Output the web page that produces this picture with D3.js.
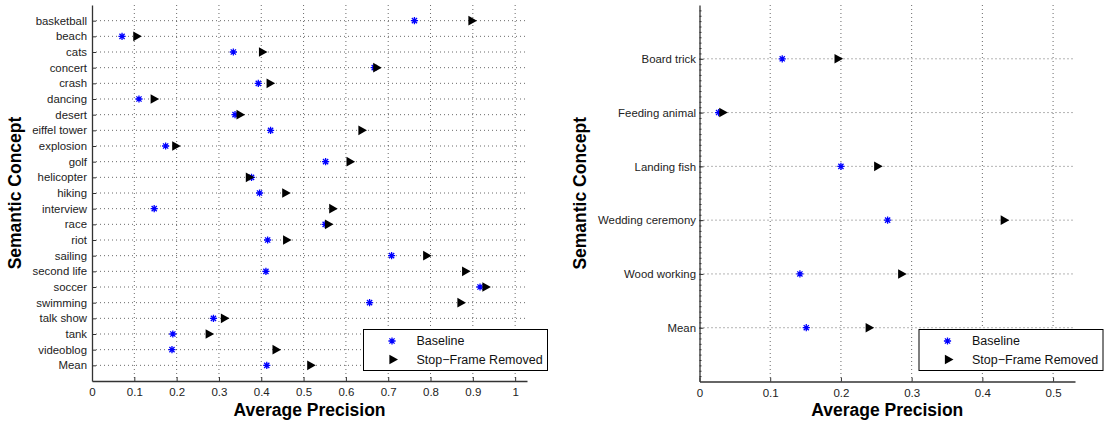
<!DOCTYPE html>
<html>
<head>
<meta charset="utf-8">
<script src="https://cdn.jsdelivr.net/npm/d3@7"></script>
<style>
  body { margin: 0; background: #fff; }
  text { font-family: "Liberation Sans", Arial, sans-serif; }
  .tick text { font-size: 11.4px; fill: #222; }
  .axTitle { font-size: 17.5px; font-weight: bold; fill: #000; }
  .legText { font-size: 12.5px; fill: #111; }
</style>
</head>
<body>
<div id="container"></div>
<script>
/* CONSTANTS AND GLOBALS */
const width = 1105
const height = 423

// left panel: consumer video concepts
const leftConcepts = ["basketball", "beach", "cats", "concert", "crash", "dancing", "desert",
  "eiffel tower", "explosion", "golf", "helicopter", "hiking", "interview", "race", "riot",
  "sailing", "second life", "soccer", "swimming", "talk show", "tank", "videoblog", "Mean"]
const leftBaseline = [0.762, 0.071, 0.334, 0.667, 0.393, 0.111, 0.338, 0.422, 0.174, 0.552,
  0.377, 0.396, 0.147, 0.551, 0.415, 0.708, 0.411, 0.917, 0.656, 0.287, 0.191, 0.189, 0.413]
const leftStopFrame = [0.898, 0.106, 0.403, 0.673, 0.421, 0.147, 0.350, 0.638, 0.198, 0.610,
  0.372, 0.458, 0.569, 0.559, 0.460, 0.791, 0.883, 0.931, 0.872, 0.313, 0.277, 0.435, 0.517]
const leftTicks = [0, 0.1, 0.2, 0.3, 0.4, 0.5, 0.6, 0.7, 0.8, 0.9, 1]
const leftXMax = 1.028

// right panel: event concepts
const rightConcepts = ["Board trick", "Feeding animal", "Landing fish", "Wedding ceremony", "Wood working", "Mean"]
const rightBaseline = [0.117, 0.027, 0.200, 0.266, 0.142, 0.151]
const rightStopFrame = [0.196, 0.033, 0.252, 0.431, 0.286, 0.240]
const rightTicks = [0, 0.1, 0.2, 0.3, 0.4, 0.5]
const rightXMax = 0.531

const legendLabels = ["Baseline", "Stop\u2212Frame Removed"]

const svg = d3.select("#container")
  .append("svg")
  .attr("width", width)
  .attr("height", height)

// marker shapes
const starPath = (() => {
  const r = 3.6, a = r * 0.72
  return `M${-r},0H${r}M0,${-r}V${r}M${-a},${-a}L${a},${a}M${-a},${a}L${a},${-a}`
})()
const triPath = "M-3.6,-4.8L5,0L-3.6,4.8Z"

function drawPanel(cfg) {
  const g = svg.append("g")

  const xScale = d3.scaleLinear()
    .domain([0, cfg.xMax])
    .range([cfg.left, cfg.right])

  const yScale = d3.scaleLinear()
    .domain([0, cfg.concepts.length + 1])
    .range([cfg.top, cfg.bottom])

  // GRID
  g.append("g").selectAll("line")
    .data(cfg.ticks.filter(d => d > 0))
    .join("line")
    .attr("x1", d => xScale(d)).attr("x2", d => xScale(d))
    .attr("y1", cfg.top).attr("y2", cfg.bottom)
    .attr("stroke", "#444").attr("stroke-width", 0.8)
    .attr("stroke-dasharray", "1,3")

  g.append("g").selectAll("line")
    .data(cfg.concepts)
    .join("line")
    .attr("x1", cfg.left).attr("x2", cfg.right)
    .attr("y1", (d, i) => yScale(i + 1)).attr("y2", (d, i) => yScale(i + 1))
    .attr("stroke", "#444").attr("stroke-width", 0.8)
    .attr("stroke-dasharray", "1,3")

  // AXES
  const xAxis = d3.axisBottom(xScale)
    .tickValues(cfg.ticks)
    .tickFormat(d => d3.format("~g")(d))
    .tickSizeInner(-4)
    .tickSizeOuter(0)
    .tickPadding(7)

  const xAxisGroup = g.append("g")
    .attr("transform", `translate(0, ${cfg.bottom})`)
    .call(xAxis)

  const yAxis = d3.axisLeft(yScale)
    .tickValues(cfg.concepts.map((d, i) => i + 1))
    .tickFormat((d, i) => cfg.concepts[i])
    .tickSizeInner(-4)
    .tickSizeOuter(0)
    .tickPadding(cfg.labelPad)

  g.append("g")
    .attr("transform", `translate(${cfg.left}, 0)`)
    .call(yAxis)

  if (cfg.minor) {
    g.append("g")
      .attr("transform", `translate(${cfg.left}, 0)`)
      .call(d3.axisLeft(yScale)
        .tickValues(d3.range(1, (cfg.concepts.length + 1) * 10).map(d => d / 10))
        .tickFormat("")
        .tickSizeInner(-2)
        .tickSizeOuter(0))
      .call(a => a.select(".domain").remove())
      .selectAll("line").attr("stroke", "#333")
  }

  g.selectAll(".domain").attr("stroke", "#333").attr("stroke-width", 1.3)
  g.selectAll(".tick line").attr("stroke", "#333")
  xAxisGroup.selectAll(".tick text").style("font-size", "11.5px")

  // TITLES
  g.append("text")
    .attr("class", "axTitle")
    .attr("x", (cfg.left + cfg.right) / 2)
    .attr("y", 416)
    .attr("text-anchor", "middle")
    .text("Average Precision")

  g.append("text")
    .attr("class", "axTitle")
    .attr("transform", `translate(${cfg.yTitleX}, ${(cfg.top + cfg.bottom) / 2}) rotate(-90)`)
    .attr("text-anchor", "middle")
    .text("Semantic Concept")

  // MARKERS
  g.append("g").selectAll("path")
    .data(cfg.baseline)
    .join("path")
    .attr("transform", (d, i) => `translate(${xScale(d)}, ${yScale(i + 1)})`)
    .attr("d", starPath)
    .attr("fill", "none")
    .attr("stroke", "#0000ff")
    .attr("stroke-width", 1.3)

  g.append("g").selectAll("path")
    .data(cfg.stopFrame)
    .join("path")
    .attr("transform", (d, i) => `translate(${xScale(d)}, ${yScale(i + 1)})`)
    .attr("d", triPath)
    .attr("fill", "#000")

  // LEGEND
  const leg = g.append("g")
    .attr("transform", `translate(${cfg.legX}, ${cfg.legY})`)
  leg.append("rect")
    .attr("width", 184).attr("height", 41)
    .attr("fill", "#fff").attr("stroke", "#000").attr("stroke-width", 1)
  leg.selectAll(".legText")
    .data(legendLabels)
    .join("text")
    .attr("class", "legText")
    .attr("x", 53)
    .attr("y", (d, i) => 11.5 + i * 18.5)
    .attr("dy", "0.35em")
    .text(d => d)
  leg.append("path")
    .attr("transform", "translate(28.5, 11.5)")
    .attr("d", starPath)
    .attr("fill", "none").attr("stroke", "#0000ff").attr("stroke-width", 1.3)
  leg.append("path")
    .attr("transform", "translate(29.5, 30)")
    .attr("d", triPath)
    .attr("fill", "#000")
}

drawPanel({
  concepts: leftConcepts, baseline: leftBaseline, stopFrame: leftStopFrame,
  ticks: leftTicks, xMax: leftXMax,
  left: 92, right: 527, top: 5, bottom: 381,
  labelPad: 5, yTitleX: 21, minor: false,
  legX: 363.5, legY: 329.5
})

drawPanel({
  concepts: rightConcepts, baseline: rightBaseline, stopFrame: rightStopFrame,
  ticks: rightTicks, xMax: rightXMax,
  left: 699.5, right: 1075, top: 5, bottom: 381.5,
  labelPad: 3.5, yTitleX: 586, minor: true,
  legX: 919, legY: 329.5
})
</script>
</body>
</html>
